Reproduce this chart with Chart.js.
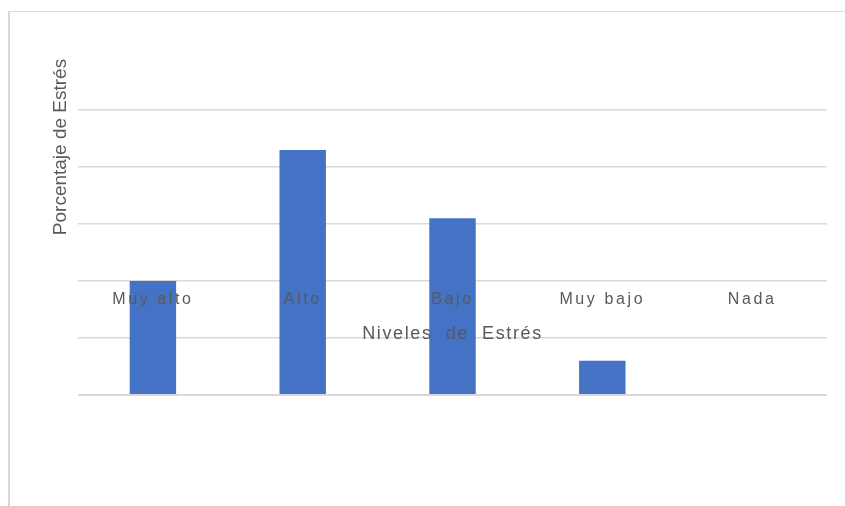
<!DOCTYPE html>
<html>
<head>
<meta charset="utf-8">
<script src="https://cdn.jsdelivr.net/npm/chart.js@4"></script>
<style>
  html, body { margin: 0; padding: 0; background: #fff; }
  #wrap { position: relative; width: 845px; height: 506px; }
  #frame { position: absolute; left: 8px; top: 11px; right: 0; bottom: 0;
           border-top: 1px solid #d9d9d9; border-left: 2px solid #d9d9d9; }
  canvas { position: absolute; left: 0; top: 0; }
</style>
</head>
<body>
<div id="wrap">
  <div id="frame"></div>
  <canvas id="chart" width="845" height="506"></canvas>
</div>
<script>
const categories = ['Muy alto', 'Alto', 'Bajo', 'Muy bajo', 'Nada'];
const values = [20, 43, 31, 6, 0];
const yTitle = 'Porcentaje de Estrés';
const xTitle = 'Niveles  de  Estrés';

// Excel-style labels sit inside the plot, so draw them by hand from the scales
const labelPlugin = {
  id: 'labels',
  afterDraw(chart) {
    const { ctx, scales } = chart;
    const x = scales.x, y = scales.y;
    ctx.save();
    ctx.fillStyle = '#595959';
    ctx.textAlign = 'center';
    ctx.textBaseline = 'middle';

    ctx.font = '16px "Liberation Sans", Arial, sans-serif';
    ctx.letterSpacing = '2.6px';
    categories.forEach((c, i) => {
      ctx.fillText(c, x.getPixelForValue(i), y.getPixelForValue(16.7));
    });

    ctx.font = '18px "Liberation Sans", Arial, sans-serif';
    ctx.letterSpacing = '1.6px';
    ctx.fillText(xTitle, (x.left + x.right) / 2, y.getPixelForValue(10.7));

    ctx.letterSpacing = '0px';
    ctx.font = '19px "Liberation Sans", Arial, sans-serif';
    ctx.translate(61, 147);
    ctx.rotate(-Math.PI / 2);
    ctx.fillText(yTitle, 0, 0);
    ctx.restore();
  }
};

new Chart(document.getElementById('chart'), {
  type: 'bar',
  data: {
    labels: categories,
    datasets: [{
      data: values,
      backgroundColor: '#4472c4',
      barPercentage: 0.31,
      categoryPercentage: 1,
    }],
  },
  options: {
    responsive: false,
    animation: false,
    layout: { padding: { left: 78, right: 18, top: 110, bottom: 111 } },
    plugins: { legend: { display: false }, tooltip: { enabled: false } },
    scales: {
      x: { display: false },
      y: {
        min: 0,
        max: 50,
        ticks: { display: false, stepSize: 10 },
        grid: {
          color: '#d9d9d9',
          lineWidth: ctx => (ctx.tick && ctx.tick.value === 0 ? 2 : 1.5),
          drawTicks: false,
        },
        border: { display: false },
      },
    },
  },
  plugins: [labelPlugin],
});
</script>
</body>
</html>
